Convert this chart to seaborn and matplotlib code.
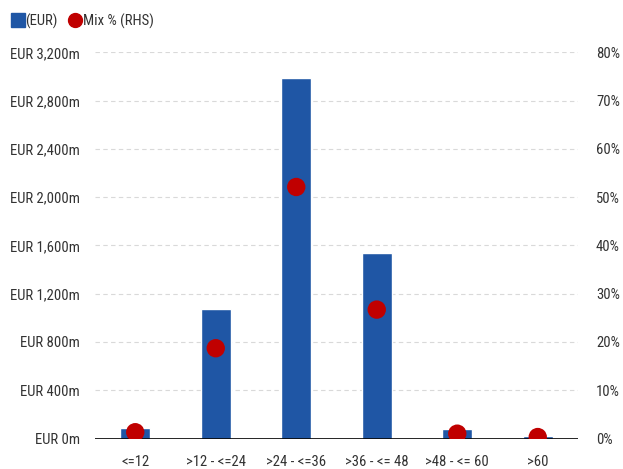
import matplotlib
matplotlib.use("Agg")
import matplotlib.pyplot as plt
import seaborn as sns
import pandas as pd
from matplotlib.ticker import FuncFormatter, MultipleLocator
from matplotlib.lines import Line2D

categories = ["<=12", ">12 - <=24", ">24 - <=36", ">36 - <= 48", ">48 - <= 60", ">60"]
amount_eur_m = [91, 1072, 2990, 1534, 77, 21]
mix_pct = [1.3, 18.7, 52.1, 26.7, 1.0, 0.3]

df = pd.DataFrame({"cat": categories, "amt": amount_eur_m, "mix": [m / 100 for m in mix_pct]})

sns.set_theme(style="white")
plt.rcParams["font.family"] = ["Arial Narrow", "Liberation Sans Narrow", "Roboto Condensed",
                               "Archivo Narrow", "DejaVu Sans"]

BLUE = "#1f56a5"
RED = "#c00000"
TXT = "#333333"
FS = 10.6

fig = plt.figure(figsize=(6.23, 4.69), dpi=100)
ax = fig.add_axes([95 / 623, 30.5 / 469, 483 / 623, 386.2 / 469])

sns.barplot(data=df, x="cat", y="amt", color=BLUE, width=0.37, saturation=1, ax=ax, zorder=2)
ax.set_xlim(-0.5, 5.5)
ax.set_ylim(0, 3200)
ax.yaxis.set_major_locator(MultipleLocator(400))
ax.yaxis.set_major_formatter(FuncFormatter(lambda v, p: f"EUR {int(v):,}m"))
ax.grid(axis="y", color="#d9d9d9", linestyle=(0, (4, 3)), linewidth=0.8, zorder=0)
ax.axhline(0, color="black", linewidth=1.2, zorder=3)
for s in ax.spines.values():
    s.set_visible(False)
ax.set_xlabel("")
ax.set_ylabel("")
ax.tick_params(axis="both", length=0, labelsize=FS, colors=TXT)
ax.tick_params(axis="y", pad=11)
ax.tick_params(axis="x", pad=12)

ax2 = ax.twinx()
sns.scatterplot(data=df, x="cat", y="mix", color=RED, s=175, edgecolor="none", ax=ax2, zorder=4, legend=False)
ax2.set_ylim(0, 0.8)
ax2.yaxis.set_major_locator(MultipleLocator(0.1))
ax2.yaxis.set_major_formatter(FuncFormatter(lambda v, p: f"{v*100:.0f}%"))
for s in ax2.spines.values():
    s.set_visible(False)
ax2.set_ylabel("")
ax2.tick_params(axis="y", length=0, labelsize=FS, colors=TXT, pad=13)
ax2.grid(False)

handles = [
    Line2D([], [], marker="s", linestyle="none", markersize=10, markerfacecolor=BLUE, markeredgecolor=BLUE),
    Line2D([], [], marker="o", linestyle="none", markersize=10, markerfacecolor=RED, markeredgecolor=RED),
]
fig.legend(handles, ["(EUR)", "Mix % (RHS)"], loc="center left", bbox_to_anchor=(0.01, 1 - 21 / 469),
           ncol=2, frameon=False, fontsize=FS, handlelength=0.8, handletextpad=0.1,
           columnspacing=0.8, borderaxespad=0, labelcolor=TXT)

fig.savefig("out.png", dpi=100)
